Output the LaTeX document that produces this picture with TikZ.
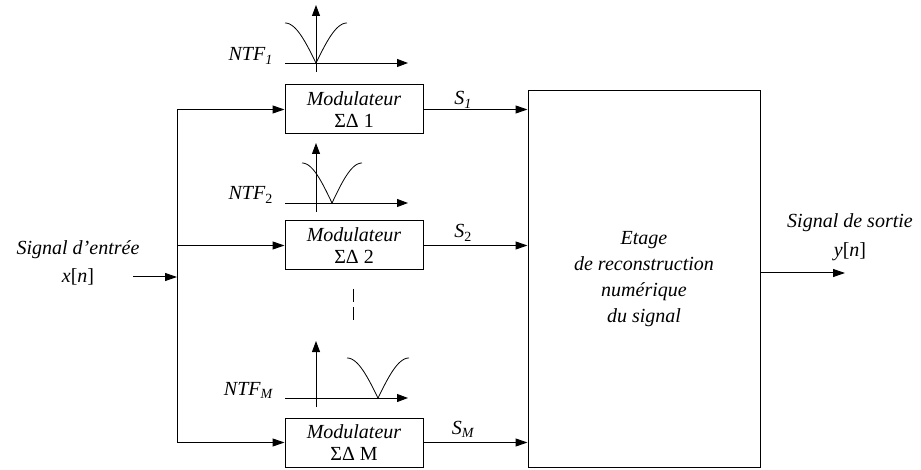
\documentclass[tikz,border=0pt]{standalone}
\usepackage{fontspec}
\setmainfont{Liberation Serif}
\usetikzlibrary{arrows.meta}
\begin{document}
\begin{tikzpicture}[x=1pt,y=-1pt,
  lbl/.style={font=\fontsize{20}{22}\selectfont\itshape, inner sep=0pt},
  modbox/.style={draw, line width=1pt, minimum width=138pt, minimum height=49pt, align=center, font=\fontsize{20}{22}\selectfont, inner sep=0pt},
  bigbox/.style={draw, line width=1pt, minimum width=232pt, minimum height=376pt, align=center, font=\fontsize{20}{26}\selectfont\itshape, inner sep=0pt},
  wire/.style={line width=1pt},
  arr/.style={line width=1pt, -{Triangle[length=12pt,width=8pt]}},
  axis/.style={line width=0.9pt, -{Triangle[length=11pt,width=8pt]}},
  curve/.style={line width=0.8pt}
]
\useasboundingbox (0,0) rectangle (921,470);

% blocks
\node[modbox] (m1) at (354,109.5) {\textit{Modulateur}\\ΣΔ 1};
\node[modbox] (m2) at (354,245.5) {\textit{Modulateur}\\ΣΔ 2};
\node[modbox] (mM) at (354,442.5) {\textit{Modulateur}\\ΣΔ M};
\node[bigbox] (rec) at (644,279) {Etage\\de reconstruction\\numérique\\du signal};

% bus and input
\coordinate (bt) at (177,109.5);
\coordinate (bb) at (177,442.5);
\coordinate (b2) at (177,245.5);
\coordinate (in) at (133,277);
\coordinate (bin) at (177,277);
\draw[wire] (bt) -- (bb);
\draw[arr] (in) -- (bin);
\draw[arr] (bt) -- (m1.west);
\draw[arr] (b2) -- (m2.west);
\draw[arr] (bb) -- (mM.west);

% outputs of modulators
\draw[arr] (m1.east) -- (m1.east -| rec.west);
\draw[arr] (m2.east) -- (m2.east -| rec.west);
\draw[arr] (mM.east) -- (mM.east -| rec.west);

% output arrow
\coordinate (out) at (845,273);
\draw[arr] (rec.east |- out) -- (out);

% labels
\node[lbl, anchor=base] (sin1) at (78,255) {Signal d’entrée};
\node[lbl, anchor=base] (sin2) at (78,283) {x\textup{[}n\textup{]}};
\node[lbl, anchor=base] (so1) at (850,228) {Signal de sortie};
\node[lbl, anchor=base] (so2) at (850,257) {y\textup{[}n\textup{]}};

\node[lbl, anchor=base] (s1) at (463,105) {S\textsubscript{1}};
\node[lbl, anchor=base] (s2) at (463,238) {S\textsubscript{\upshape 2}};
\node[lbl, anchor=base] (sM) at (463,434) {S\textsubscript{M}};

\node[lbl, anchor=base east] (n1) at (273,61) {NTF\textsubscript{1}};
\node[lbl, anchor=base east] (n2) at (273,200) {NTF\textsubscript{\upshape 2}};
\node[lbl, anchor=base east] (nM) at (273,395) {NTF\textsubscript{M}};

% NTF plot 1
\draw[axis] (285,63) -- (408,63);
\draw[axis] (316,72) -- (316,5);
\draw[curve] plot[domain=-31:31, samples=61, smooth] ({316+\x},{63-40*abs(sin(\x/31*90))});

% NTF plot 2
\draw[axis] (285,203) -- (408,203);
\draw[axis] (316,212) -- (316,143);
\draw[curve] plot[domain=-30:30, samples=61, smooth] ({332+\x},{203-40*abs(sin(\x/30*90))});

% NTF plot M
\draw[axis] (285,398) -- (408,398);
\draw[axis] (316,407) -- (316,341);
\draw[curve] plot[domain=-31:31, samples=61, smooth] ({378+\x},{398-40*abs(sin(\x/31*90))});

% dashed continuation
\draw[line width=1pt, dash pattern=on 13pt off 5pt] (353,289) -- (353,320);
\end{tikzpicture}
\end{document}
